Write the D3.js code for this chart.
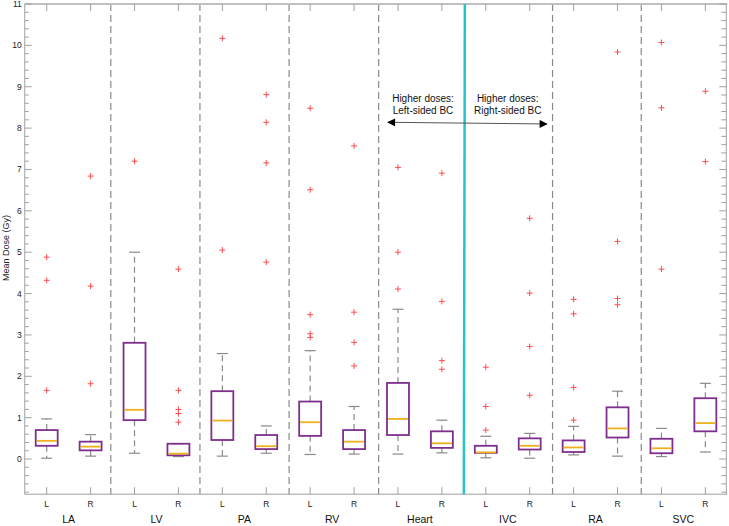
<!DOCTYPE html>
<html><head><meta charset="utf-8">
<script src="https://cdn.jsdelivr.net/npm/d3@7"></script>
<style>body{margin:0;background:#fff}svg{display:block;font-family:"Liberation Sans",Arial,sans-serif}</style>
</head><body><svg id="c" width="729" height="526"></svg>
<script>
const groups = ["LA","LV","PA","RV","Heart","IVC","RA","SVC"];
const sides = ["L","R"];
// per box (LA L, LA R, LV L, ...): whisker low, q1, median, q3, whisker high
const whiskerLow = [0.02,0.07, 0.14,0.06, 0.07,0.14, 0.11,0.12, 0.12,0.15, 0.03,0.02, 0.10,0.07, 0.06,0.17];
const q1         = [0.32,0.21, 0.94,0.09, 0.46,0.24, 0.56,0.24, 0.58,0.27, 0.15,0.23, 0.17,0.52, 0.14,0.67];
const medians    = [0.44,0.30, 1.19,0.13, 0.93,0.31, 0.89,0.42, 0.97,0.38, 0.16,0.32, 0.28,0.74, 0.26,0.87];
const q3         = [0.70,0.42, 2.81,0.37, 1.64,0.58, 1.39,0.70, 1.84,0.67, 0.32,0.50, 0.45,1.25, 0.49,1.47];
const whiskerHigh= [0.97,0.59, 5.00,0.37, 2.55,0.80, 2.62,1.27, 3.62,0.94, 0.55,0.62, 0.79,1.64, 0.74,1.83];
const outliers = [
  [1.66,4.32,4.88],
  [1.82,4.18,6.84],
  [7.20],
  [0.89,1.10,1.20,1.66,4.59],
  [5.05,10.17],
  [4.76,7.16,8.14,8.81],
  [2.94,3.03,3.49,6.51,8.48],
  [2.25,2.82,3.55,7.57],
  [4.11,5.00,7.05],
  [2.17,2.38,3.81,6.91],
  [0.70,1.27,2.22],
  [1.54,2.72,4.01,5.82],
  [0.94,1.73,3.51,3.86],
  [3.73,3.88,5.26,9.84],
  [4.59,8.49,10.07],
  [7.19,8.89]
];
const yTicks = [0,1,2,3,4,5,6,7,8,9,10,11];
const dividers = [2.46,4.49,6.52,8.56,12.52,14.54];
const cyanPos = 10.5;
const annotLeft = ["Higher doses:","Left-sided BC"];
const annotRight = ["Higher doses:","Right-sided BC"];

const svg = d3.select("#c");
const x = d3.scaleLinear().domain([0.5,16.5]).range([24.75,727.3]);
const y = d3.scaleLinear().domain([-0.85,11]).range([494.2,4]);
const step = x(2)-x(1);
const bw = step*0.5;
const axisCol = "#a0a0a0";

// dividers
svg.selectAll(".div").data(dividers).enter().append("line")
  .attr("x1",d=>x(d)).attr("x2",d=>x(d)).attr("y1",y(11)).attr("y2",y(-0.85))
  .attr("stroke","#8a8a8a").attr("stroke-width",1.2).attr("stroke-dasharray","7,4");

// axes frame
const minor = d3.range(-0.8, 11.001, 0.2).map(v=>+v.toFixed(1));
const g = svg.append("g");
g.append("line").attr("x1",x(0.5)).attr("x2",x(0.5)).attr("y1",y(11)).attr("y2",y(-0.85)).attr("stroke",axisCol).attr("stroke-width",1);
g.append("line").attr("x1",x(16.5)-1).attr("x2",x(16.5)-1).attr("y1",y(11)).attr("y2",y(-0.85)).attr("stroke",axisCol).attr("stroke-width",1);
g.append("line").attr("x1",x(0.5)).attr("x2",x(16.5)).attr("y1",y(11)).attr("y2",y(11)).attr("stroke","#c0c0c0").attr("stroke-width",2);
g.append("line").attr("x1",x(0.5)).attr("x2",x(16.5)).attr("y1",y(-0.85)).attr("y2",y(-0.85)).attr("stroke",axisCol).attr("stroke-width",1);
// left minor/major ticks
g.selectAll(".lt").data(minor).enter().append("line")
  .attr("x1",x(0.5)).attr("x2",d=>x(0.5)+(Math.abs(d-Math.round(d))<1e-6?7:4))
  .attr("y1",d=>y(d)).attr("y2",d=>y(d)).attr("stroke",axisCol);
g.selectAll(".rt").data(minor).enter().append("line")
  .attr("x1",x(16.5)-1).attr("x2",d=>x(16.5)-1-(Math.abs(d-Math.round(d))<1e-6?7:5))
  .attr("y1",d=>y(d)).attr("y2",d=>y(d)).attr("stroke",axisCol);
g.selectAll(".yl").data(yTicks).enter().append("text")
  .attr("x",x(0.5)-3).attr("y",d=>y(d)+3).attr("text-anchor","end")
  .attr("font-size",8.5).attr("fill","#222").text(d=>d);
svg.append("text").attr("transform",`translate(9,${y(5.1)}) rotate(-90)`)
  .attr("text-anchor","middle").attr("font-size",9).attr("fill","#222").text("Mean Dose (Gy)");

// bottom/top ticks & labels
const positions = d3.range(1,17);
g.selectAll(".bt").data(positions).enter().append("line")
  .attr("x1",d=>x(d)).attr("x2",d=>x(d)).attr("y1",y(-0.85)).attr("y2",y(-0.85)-7).attr("stroke",axisCol);
g.selectAll(".tt").data(positions).enter().append("line")
  .attr("x1",d=>x(d)).attr("x2",d=>x(d)).attr("y1",y(11)).attr("y2",y(11)+7).attr("stroke",axisCol);
g.selectAll(".sl").data(positions).enter().append("text")
  .attr("x",d=>x(d)).attr("y",507).attr("text-anchor","middle").attr("font-size",8.5).attr("fill","#222")
  .text(d=>sides[(d-1)%2]);
g.selectAll(".gl").data(groups).enter().append("text")
  .attr("x",(d,i)=>x(2*i+1.5)).attr("y",523).attr("text-anchor","middle").attr("font-size",10.5).attr("fill","#111")
  .text(d=>d);

// boxes
const boxes = positions.map((p,i)=>({p,lo:whiskerLow[i],q1:q1[i],med:medians[i],q3:q3[i],hi:whiskerHigh[i],out:outliers[i]}));
const bg = svg.selectAll(".box").data(boxes).enter().append("g");
bg.append("line").attr("x1",d=>x(d.p)).attr("x2",d=>x(d.p)).attr("y1",d=>y(d.q3)).attr("y2",d=>y(d.hi))
  .attr("stroke","#8a8a8a").attr("stroke-width",1.2).attr("stroke-dasharray","6,4");
bg.append("line").attr("x1",d=>x(d.p)).attr("x2",d=>x(d.p)).attr("y1",d=>y(d.q1)).attr("y2",d=>y(d.lo))
  .attr("stroke","#8a8a8a").attr("stroke-width",1.2).attr("stroke-dasharray","6,4");
bg.append("line").attr("x1",d=>x(d.p)-bw/4).attr("x2",d=>x(d.p)+bw/4).attr("y1",d=>y(d.hi)).attr("y2",d=>y(d.hi))
  .attr("stroke","#8a8a8a").attr("stroke-width",1.2);
bg.append("line").attr("x1",d=>x(d.p)-bw/4).attr("x2",d=>x(d.p)+bw/4).attr("y1",d=>y(d.lo)).attr("y2",d=>y(d.lo))
  .attr("stroke","#8a8a8a").attr("stroke-width",1.2);
bg.append("rect").attr("x",d=>x(d.p)-bw/2).attr("width",bw).attr("y",d=>y(d.q3)).attr("height",d=>y(d.q1)-y(d.q3))
  .attr("fill","none").attr("stroke","#7e2f8e").attr("stroke-width",1.8);
bg.append("line").attr("x1",d=>x(d.p)-bw/2+1).attr("x2",d=>x(d.p)+bw/2-1).attr("y1",d=>y(d.med)).attr("y2",d=>y(d.med))
  .attr("stroke","#edb120").attr("stroke-width",1.8);
bg.each(function(d){
  const s = d3.select(this);
  d.out.forEach(v=>{
    const cx=x(d.p), cy=y(v);
    s.append("path").attr("d",`M${cx-3},${cy}H${cx+3}M${cx},${cy-3}V${cy+3}`)
      .attr("stroke","#ff4d4d").attr("stroke-width",1).attr("fill","none");
  });
});

// cyan line
svg.append("line").attr("x1",x(cyanPos)+1).attr("x2",x(cyanPos)).attr("y1",y(11)).attr("y2",y(-0.85))
  .attr("stroke","#25c4cc").attr("stroke-width",2.5);

// annotation
const defs = svg.append("defs");
["s","e"].forEach(k=>{
  defs.append("marker").attr("id","m"+k).attr("viewBox","0 0 10 10").attr("refX",9).attr("refY",5)
    .attr("markerWidth",9).attr("markerHeight",8).attr("markerUnits","userSpaceOnUse").attr("orient","auto-start-reverse")
    .append("path").attr("d","M0,0L10,5L0,10z").attr("fill","#000");
});
svg.append("line").attr("x1",x(8.77)).attr("x2",x(12.39)).attr("y1",y(8.14)).attr("y2",y(8.10))
  .attr("stroke","#555").attr("stroke-width",1).attr("marker-start","url(#ms)").attr("marker-end","url(#me)");
svg.selectAll(".al").data(annotLeft).enter().append("text")
  .attr("x",x(9.57)).attr("y",(d,i)=>y(8.62)+i*11.5).attr("text-anchor","middle").attr("font-size",10).attr("fill","#111").text(d=>d);
svg.selectAll(".ar").data(annotRight).enter().append("text")
  .attr("x",x(11.5)).attr("y",(d,i)=>y(8.62)+i*11.5).attr("text-anchor","middle").attr("font-size",10).attr("fill","#111").text(d=>d);
</script></body></html>
